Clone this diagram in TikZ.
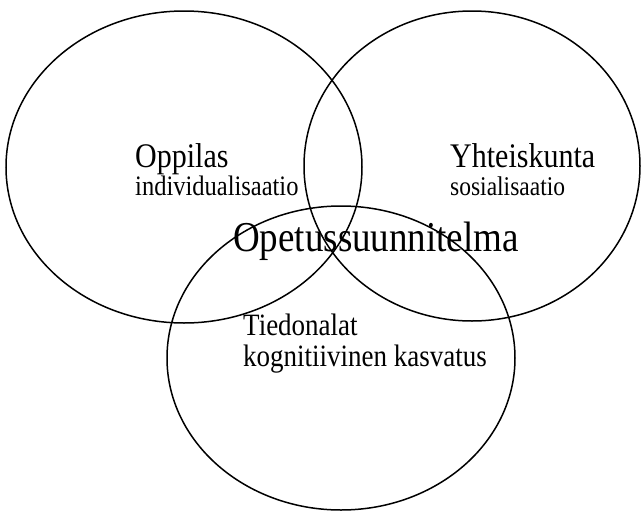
\documentclass[tikz,border=0pt]{standalone}
\usepackage{fontspec}
\setmainfont{Liberation Serif}
\usetikzlibrary{positioning, shapes.geometric}
\newcommand{\tall}[1]{\scalebox{1}[1.15]{#1}}

\begin{document}
\begin{tikzpicture}[x=1pt, y=-1pt]
	 \tikzstyle{area}=[ellipse, draw, line width=1.5pt, inner sep=0pt]
	 \tikzstyle{title}=[anchor=base west, inner sep=0pt]
	 \useasboundingbox (0,0) rectangle (641,512);
	 \node[area, minimum width=356pt, minimum height=312pt] (oppilas) at (184,167) {};
	 \node[area, minimum width=336pt, minimum height=310pt] (yhteis) at (472,166) {};
	 \node[area, minimum width=348pt, minimum height=304pt] (tieto) at (341,358) {};
	 \node[title, font=\fontsize{30}{36}\selectfont] (t1) at (135,167) {\tall{Oppilas}};
	 \node[title, font=\fontsize{24.5}{30}\selectfont] (s1) at (135,195) {\tall{individualisaatio}};
	 \node[title, font=\fontsize{30}{36}\selectfont] (t2) at (450,167) {\tall{Yhteiskunta}};
	 \node[title, font=\fontsize{23.5}{30}\selectfont] (s2) at (450,195) {\tall{sosialisaatio}};
	 \node[title, font=\fontsize{37}{44}\selectfont] (ops) at (233,251) {\tall{Opetussuunnitelma}};
	 \node[title, font=\fontsize{27}{32}\selectfont] (t3) at (243,335) {\tall{Tiedonalat}};
	 \node[title, font=\fontsize{27}{32}\selectfont] (s3) at (243,366) {\tall{kognitiivinen kasvatus}};
\end{tikzpicture}
\end{document}
